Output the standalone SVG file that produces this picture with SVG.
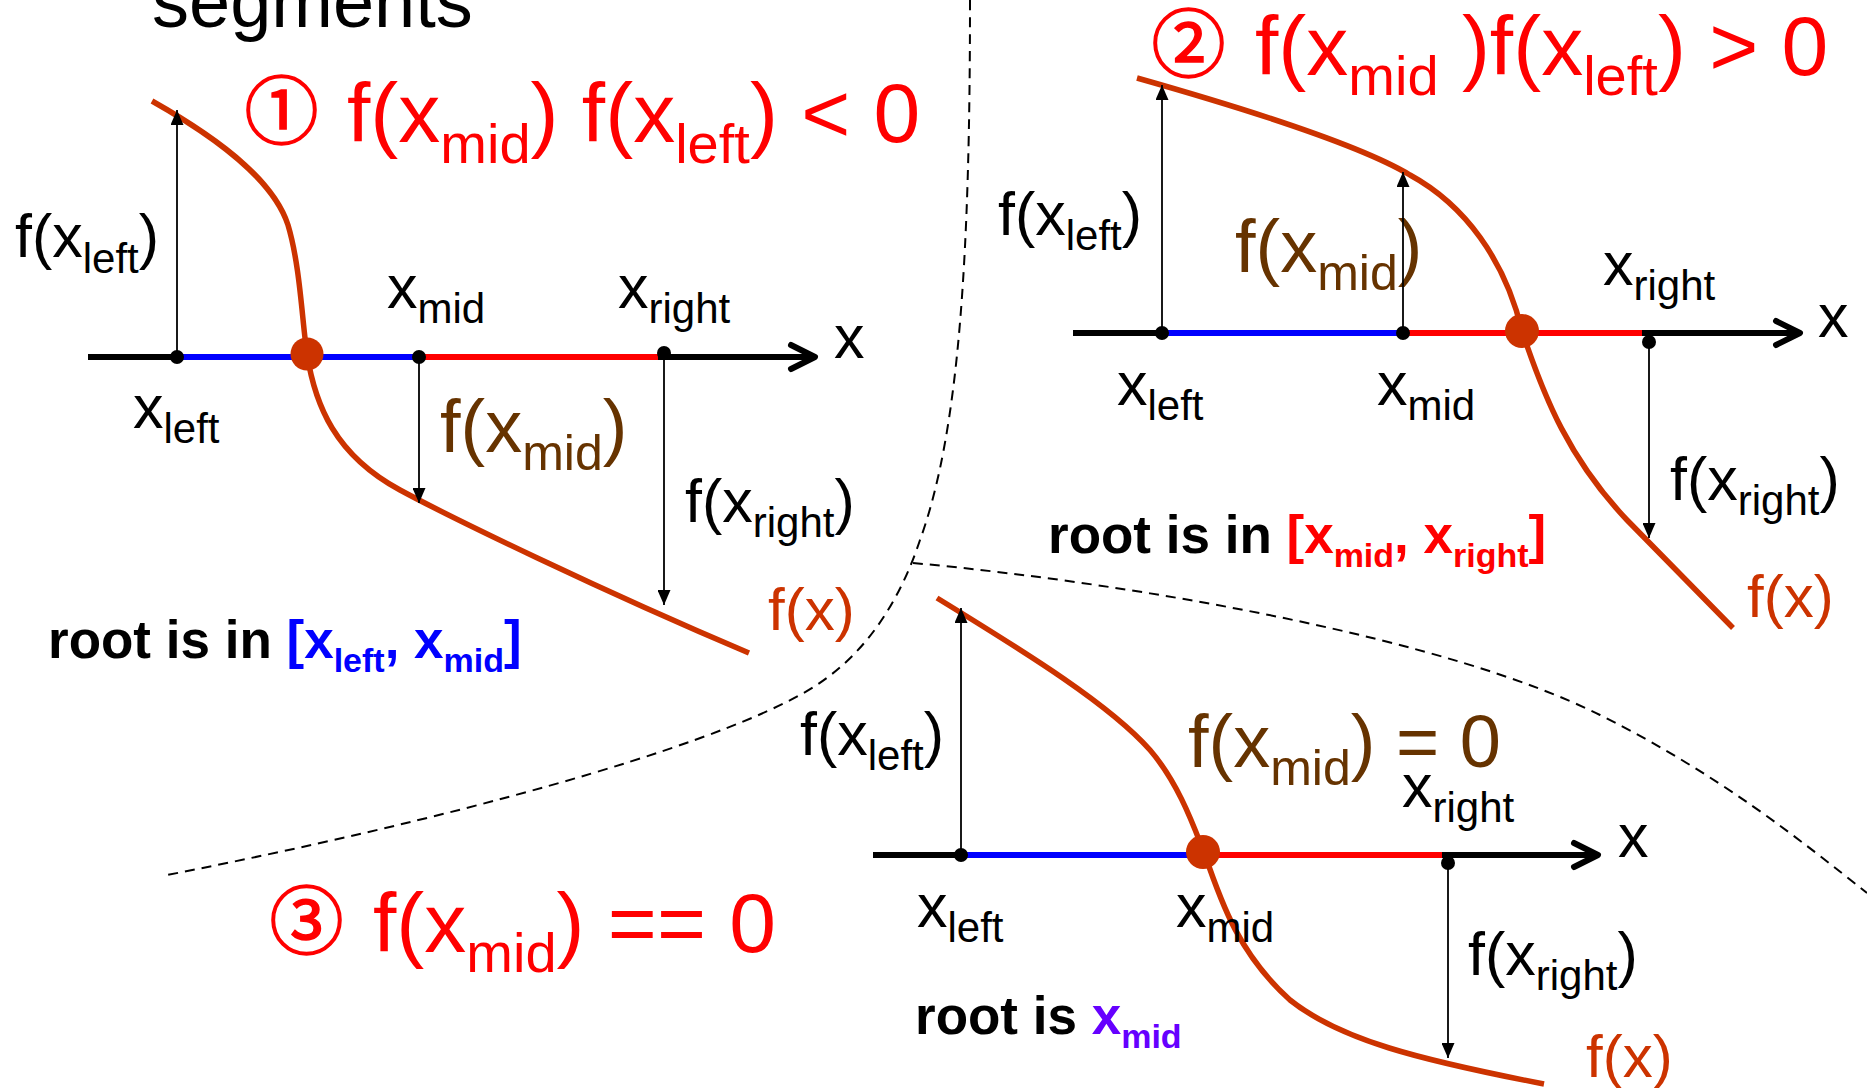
<svg xmlns="http://www.w3.org/2000/svg" width="1867" height="1088" viewBox="0 0 1867 1088">
<style>
text{font-family:"Liberation Sans",Arial,sans-serif;}
.lab{font-size:61px;fill:#000;}
.sub{font-size:42px;}
.title{font-size:84px;fill:#ff0000;}
.tsub{font-size:56px;}
.brown{font-size:74px;fill:#663300;}
.bsub{font-size:50px;}
.fx{font-size:60px;fill:#cc3300;}
.root{font-size:53px;font-weight:bold;fill:#000;}
.rsub{font-size:34px;}
.circ{font-family:"Noto Sans CJK JP","DejaVu Sans",sans-serif;font-size:74px;fill:#ff0000;stroke:#ff0000;stroke-width:1.6;text-anchor:middle;}
.axis{stroke:#000;stroke-width:6;fill:none;}
.chev{stroke:#000;stroke-width:6;fill:none;stroke-linecap:round;stroke-linejoin:round;}
.blue{stroke:#0000ff;stroke-width:6;}
.red{stroke:#ff0000;stroke-width:6;}
.curve{stroke:#cc3300;stroke-width:5.5;fill:none;}
.rootdot{fill:#cc3300;}
.dot{fill:#000;}
.arr{stroke:#000;stroke-width:1.8;fill:none;marker-end:url(#ah);}
.dash{stroke:#000;stroke-width:2;fill:none;stroke-dasharray:10 7;}
</style>
<defs>
<marker id="ah" markerUnits="userSpaceOnUse" markerWidth="15" markerHeight="13" refX="15" refY="6.5" orient="auto">
<path d="M0,0 L15,6.5 L0,13 z" fill="#000"/>
</marker>
</defs>
<rect width="1867" height="1088" fill="#fff"/>

<g id="separators">
<path class="dash" d="M970,0 C970,250 960,430 920,540 C900,600 865,660 800,695 C700,750 450,820 162,876"/>
<path class="dash" d="M913,563 C1150,585 1450,640 1600,715 C1720,775 1800,840 1867,893"/>
</g>

<text id="heading" x="152" y="27" style="font-size:74px;fill:#000">segments</text>

<g id="panel1">
<line class="axis" x1="88" y1="357" x2="812" y2="357"/>
<polyline class="chev" points="791,345 815,357 791,369"/>
<line class="blue" x1="177" y1="357" x2="419" y2="357"/>
<line class="red" x1="419" y1="357" x2="658" y2="357"/>
<path class="curve" d="M152,101 C230,145 275,185 288,225 C300,265 302,320 307,354 C315,405 335,455 400,490 C450,517 600,590 749,653"/>
<circle class="dot" cx="177" cy="357" r="7"/>
<circle class="dot" cx="419" cy="357" r="7"/>
<circle class="dot" cx="664" cy="353" r="7"/>
<circle class="rootdot" cx="307" cy="354" r="16.5"/>
<text class="circ" x="281.5" y="138">①</text>
<text class="title"><tspan x="347" y="142">f(x</tspan><tspan class="tsub" y="163">mid</tspan><tspan y="142">) f(x</tspan><tspan class="tsub" y="163">left</tspan><tspan y="142">) &lt; 0</tspan></text>
<text class="lab"><tspan x="15" y="257">f(x</tspan><tspan class="sub" y="273">left</tspan><tspan y="257">)</tspan></text>
<text class="lab"><tspan x="133" y="428">x</tspan><tspan class="sub" y="443">left</tspan></text>
<text class="lab"><tspan x="387" y="308">x</tspan><tspan class="sub" y="323">mid</tspan></text>
<text class="lab"><tspan x="618" y="308">x</tspan><tspan class="sub" y="323">right</tspan></text>
<text class="lab" x="834" y="358">x</text>
<text class="lab"><tspan x="685" y="522">f(x</tspan><tspan class="sub" y="537">right</tspan><tspan y="522">)</tspan></text>
<text class="brown"><tspan x="440" y="452">f(x</tspan><tspan class="bsub" y="470">mid</tspan><tspan y="452">)</tspan></text>
<text class="fx" x="768" y="630">f(x)</text>
<text class="root"><tspan x="48" y="658">root is in </tspan><tspan fill="#0000ff">[x</tspan><tspan class="rsub" fill="#0000ff" y="672">left</tspan><tspan fill="#0000ff" y="658">, x</tspan><tspan class="rsub" fill="#0000ff" y="672">mid</tspan><tspan fill="#0000ff" y="658">]</tspan></text>
</g>

<g id="panel2">
<line class="axis" x1="1073" y1="333" x2="1797" y2="333"/>
<polyline class="chev" points="1776,321 1800,333 1776,345"/>
<line class="blue" x1="1162" y1="333" x2="1403" y2="333"/>
<line class="red" x1="1403" y1="333" x2="1642" y2="333"/>
<path class="curve" d="M1137,78 C1250,110 1360,145 1410,175 C1465,205 1505,260 1522,331 C1545,400 1570,460 1627,520 L1733,628"/>
<circle class="dot" cx="1162" cy="333" r="7"/>
<circle class="dot" cx="1403" cy="333" r="7"/>
<circle class="dot" cx="1649" cy="342" r="7"/>
<circle class="rootdot" cx="1522" cy="331" r="17"/>
<text class="circ" x="1188.5" y="71">②</text>
<text class="title"><tspan x="1255" y="75">f(x</tspan><tspan class="tsub" y="95">mid</tspan><tspan y="75"> )f(x</tspan><tspan class="tsub" y="95">left</tspan><tspan y="75">) &gt; 0</tspan></text>
<text class="lab"><tspan x="998" y="235">f(x</tspan><tspan class="sub" y="250">left</tspan><tspan y="235">)</tspan></text>
<text class="lab"><tspan x="1117" y="405">x</tspan><tspan class="sub" y="420">left</tspan></text>
<text class="lab"><tspan x="1377" y="405">x</tspan><tspan class="sub" y="420">mid</tspan></text>
<text class="lab"><tspan x="1603" y="285">x</tspan><tspan class="sub" y="300">right</tspan></text>
<text class="lab" x="1818" y="337">x</text>
<text class="lab"><tspan x="1670" y="500">f(x</tspan><tspan class="sub" y="515">right</tspan><tspan y="500">)</tspan></text>
<text class="brown"><tspan x="1235" y="272">f(x</tspan><tspan class="bsub" y="290">mid</tspan><tspan y="272">)</tspan></text>
<text class="fx" x="1747" y="617">f(x)</text>
<text class="root"><tspan x="1048" y="553">root is in </tspan><tspan fill="#ff0000">[x</tspan><tspan class="rsub" fill="#ff0000" y="567">mid</tspan><tspan fill="#ff0000" y="553">, x</tspan><tspan class="rsub" fill="#ff0000" y="567">right</tspan><tspan fill="#ff0000" y="553">]</tspan></text>
</g>

<g id="panel3">
<line class="axis" x1="873" y1="855" x2="1595" y2="855"/>
<polyline class="chev" points="1574,843 1598,855 1574,867"/>
<line class="blue" x1="961" y1="855" x2="1203" y2="855"/>
<line class="red" x1="1203" y1="855" x2="1442" y2="855"/>
<path class="curve" d="M937,598 C1030,655 1110,705 1150,750 C1180,785 1195,830 1205,855 C1222,905 1240,955 1290,1000 C1340,1040 1420,1060 1544,1084"/>
<circle class="dot" cx="961" cy="855" r="7"/>
<circle class="dot" cx="1448" cy="863" r="7"/>
<circle class="rootdot" cx="1203" cy="852" r="17"/>
<text class="circ" x="306.5" y="948">③</text>
<text class="title"><tspan x="373" y="952">f(x</tspan><tspan class="tsub" y="972">mid</tspan><tspan y="952">) == 0</tspan></text>
<text class="lab"><tspan x="800" y="755">f(x</tspan><tspan class="sub" y="770">left</tspan><tspan y="755">)</tspan></text>
<text class="lab"><tspan x="917" y="927">x</tspan><tspan class="sub" y="942">left</tspan></text>
<text class="lab"><tspan x="1176" y="927">x</tspan><tspan class="sub" y="942">mid</tspan></text>
<text class="lab"><tspan x="1402" y="807">x</tspan><tspan class="sub" y="822">right</tspan></text>
<text class="lab" x="1618" y="857">x</text>
<text class="lab"><tspan x="1468" y="975">f(x</tspan><tspan class="sub" y="990">right</tspan><tspan y="975">)</tspan></text>
<text class="brown"><tspan x="1188" y="767">f(x</tspan><tspan class="bsub" y="785">mid</tspan><tspan y="767">) = 0</tspan></text>
<text class="fx" x="1586" y="1077">f(x)</text>
<text class="root"><tspan x="915" y="1034">root is </tspan><tspan fill="#6600ff">x</tspan><tspan class="rsub" fill="#6600ff" y="1048">mid</tspan></text>
</g>

<g id="connectors">
<line class="arr" x1="177" y1="357" x2="177" y2="110"/>
<line class="arr" x1="419" y1="357" x2="419" y2="503"/>
<line class="arr" x1="664" y1="353" x2="664" y2="605"/>
<line class="arr" x1="1162" y1="333" x2="1162" y2="85"/>
<line class="arr" x1="1403" y1="333" x2="1403" y2="172"/>
<line class="arr" x1="1649" y1="342" x2="1649" y2="538"/>
<line class="arr" x1="961" y1="855" x2="961" y2="608"/>
<line class="arr" x1="1448" y1="863" x2="1448" y2="1058"/>
</g>
</svg>
